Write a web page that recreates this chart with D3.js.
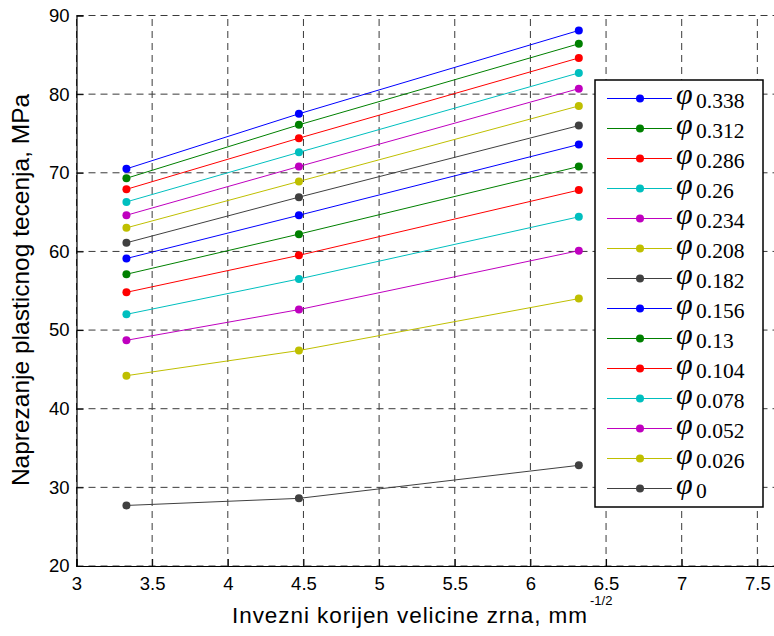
<!DOCTYPE html>
<html>
<head>
<meta charset="utf-8">
<script src="https://cdn.jsdelivr.net/npm/d3@7"></script>
<style>
  html, body { margin: 0; padding: 0; background: #fff; }
  svg { display: block; }
</style>
</head>
<body>
<svg id="chart" width="774" height="636"></svg>
<script>
// ---- data ----
const xValues = [3.33, 4.47, 6.32];
const seriesLabels = ["0.338", "0.312", "0.286", "0.26", "0.234", "0.208", "0.182",
                      "0.156", "0.13", "0.104", "0.078", "0.052", "0.026", "0"];
const seriesColors = ["#0000ff", "#008000", "#ff0000", "#00bfbf", "#bf00bf", "#bfbf00", "#404040",
                      "#0000ff", "#008000", "#ff0000", "#00bfbf", "#bf00bf", "#bfbf00", "#404040"];
const values0338 = [70.5, 77.5, 88.1];
const values0312 = [69.3, 76.1, 86.4];
const values0286 = [67.9, 74.4, 84.6];
const values0260 = [66.3, 72.6, 82.7];
const values0234 = [64.6, 70.8, 80.7];
const values0208 = [63.0, 68.9, 78.5];
const values0182 = [61.1, 66.9, 76.0];
const values0156 = [59.1, 64.6, 73.6];
const values0130 = [57.1, 62.2, 70.8];
const values0104 = [54.8, 59.5, 67.8];
const values0078 = [52.0, 56.5, 64.4];
const values0052 = [48.7, 52.6, 60.1];
const values0026 = [44.2, 47.4, 54.0];
const values0000 = [27.7, 28.6, 32.8];
const seriesValues = [values0338, values0312, values0286, values0260, values0234, values0208, values0182,
                      values0156, values0130, values0104, values0078, values0052, values0026, values0000];
const xTicks = [3, 3.5, 4, 4.5, 5, 5.5, 6, 6.5, 7, 7.5, 8];
const yTicks = [20, 30, 40, 50, 60, 70, 80, 90];
const xTitle = "Invezni korijen velicine zrna, mm";
const xTitleSup = "-1/2";
const yTitle = "Naprezanje plasticnog tecenja, MPa";

// ---- layout ----
const svg = d3.select("#chart");
const mLeft = 76.5, mTop = 15.5, mBottom = 566, mRight = 833;
const x = d3.scaleLinear().domain([3, 8]).range([mLeft, mRight]);
const y = d3.scaleLinear().domain([20, 90]).range([mBottom, mTop]);

// grid
const grid = svg.append("g");
grid.selectAll(".vg").data(xTicks).join("line")
  .attr("x1", d => x(d)).attr("x2", d => x(d))
  .attr("y1", mBottom).attr("y2", mTop)
  .attr("stroke", "#3a3a3a").attr("stroke-width", 1).attr("stroke-dasharray", "7,5");
grid.selectAll(".hg").data(yTicks).join("line")
  .attr("x1", mLeft).attr("x2", mRight)
  .attr("y1", d => y(d)).attr("y2", d => y(d))
  .attr("stroke", "#3a3a3a").attr("stroke-width", 1).attr("stroke-dasharray", "7,5");

// axes
const xAxis = d3.axisBottom(x).tickValues(xTicks).tickSize(-7).tickPadding(11)
  .tickFormat(d3.format("~g"));
const yAxis = d3.axisLeft(y).tickValues(yTicks).tickSize(-7).tickPadding(7)
  .tickFormat(d3.format("~g"));
const gx = svg.append("g").attr("transform", `translate(0,${mBottom})`).call(xAxis);
const gy = svg.append("g").attr("transform", `translate(${mLeft},0)`).call(yAxis);
[gx, gy].forEach(g => {
  g.select(".domain").attr("stroke", "#000").attr("stroke-width", 1.2);
  g.selectAll(".tick line").attr("stroke", "#000");
  g.selectAll(".tick text").attr("fill", "#000")
    .style("font-family", "'Liberation Sans', Arial, sans-serif").style("font-size", "18.5px");
});
gx.selectAll(".tick text").attr("dy", "0.71em");

// series
const line = d3.line().x((d, i) => x(xValues[i])).y(d => y(d));
const plot = svg.append("g");
seriesValues.forEach((vals, k) => {
  plot.append("path").datum(vals)
    .attr("d", line).attr("fill", "none")
    .attr("stroke", seriesColors[k]).attr("stroke-width", 1);
});
seriesValues.forEach((vals, k) => {
  plot.append("g").selectAll("circle").data(vals).join("circle")
    .attr("cx", (d, i) => x(xValues[i])).attr("cy", d => y(d))
    .attr("r", 4).attr("fill", seriesColors[k]);
});

// legend
const lg = svg.append("g");
lg.append("rect").attr("x", 595).attr("y", 80).attr("width", 168).attr("height", 427)
  .attr("fill", "#fff").attr("stroke", "#000").attr("stroke-width", 1.5);
const rowY = d3.scaleLinear().domain([0, seriesLabels.length - 1]).range([98.5, 488.5]);
seriesLabels.forEach((lab, k) => {
  const cy = rowY(k);
  lg.append("line").attr("x1", 607).attr("x2", 672).attr("y1", cy).attr("y2", cy)
    .attr("stroke", seriesColors[k]).attr("stroke-width", 1);
  lg.append("circle").attr("cx", 640).attr("cy", cy).attr("r", 4).attr("fill", seriesColors[k]);
  lg.append("text").attr("x", 676).attr("y", cy + 5)
    .style("font-family", "'Liberation Serif', 'Times New Roman', serif").style("font-style", "italic")
    .style("font-size", "30px").attr("fill", "#000").text("φ");
  lg.append("text").attr("x", 696).attr("y", cy + 9.3)
    .style("font-family", "'Liberation Serif', 'Times New Roman', serif")
    .style("font-size", "21.5px").attr("fill", "#000").text(lab);
});

// titles
const xt = svg.append("text").attr("x", 232).attr("y", 623)
  .style("font-family", "'Liberation Sans', Arial, sans-serif").style("font-size", "22.5px")
  .attr("fill", "#000");
xt.append("tspan").text(xTitle).attr("textLength", 355).attr("lengthAdjust", "spacing");
svg.append("text").attr("x", 590).attr("y", 605)
  .style("font-family", "'Liberation Sans', Arial, sans-serif").style("font-size", "13px")
  .attr("fill", "#000").text(xTitleSup);

svg.append("text").attr("transform", "translate(28.5,290) rotate(-90)")
  .attr("text-anchor", "middle")
  .style("font-family", "'Liberation Sans', Arial, sans-serif").style("font-size", "24.5px")
  .attr("fill", "#000").text(yTitle);
</script>
</body>
</html>
